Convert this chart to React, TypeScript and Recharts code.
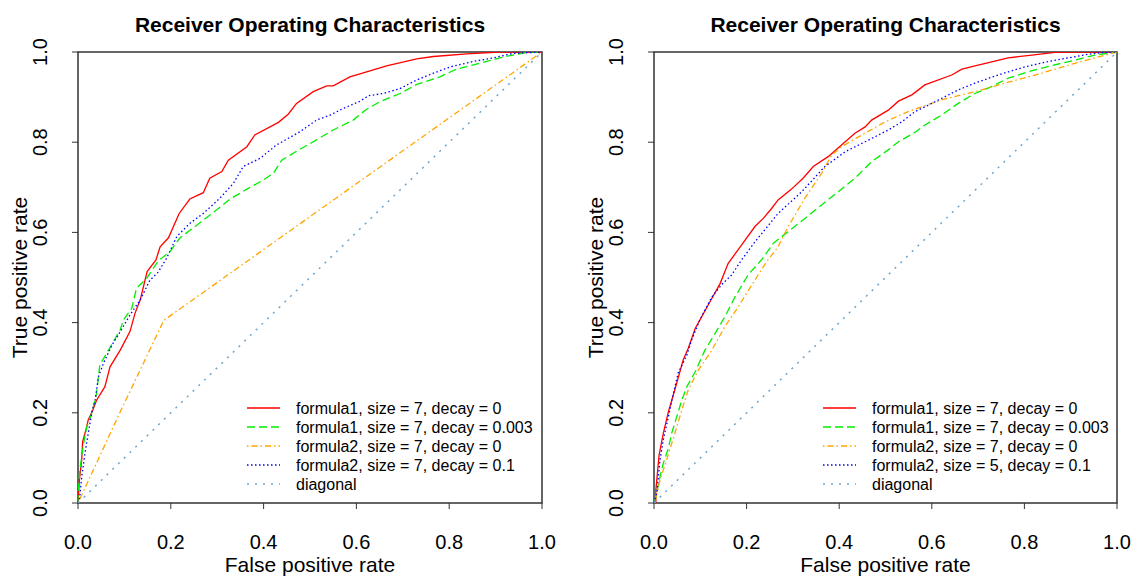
import React from "react";
import { LineChart, Line, XAxis, YAxis, ReferenceArea, Legend, Label } from "recharts";

// ROC points, [fpr, tpr]
const leftF1D0 = [
  [0, 0], [0.003, 0.051], [0.008, 0.095], [0.01, 0.136], [0.017, 0.162], [0.022, 0.184],
  [0.032, 0.206], [0.04, 0.228], [0.058, 0.258], [0.069, 0.302], [0.091, 0.339], [0.112, 0.38],
  [0.123, 0.421], [0.134, 0.45], [0.149, 0.513], [0.168, 0.539], [0.177, 0.568], [0.195, 0.588],
  [0.218, 0.642], [0.241, 0.674], [0.27, 0.688], [0.284, 0.72], [0.31, 0.735], [0.324, 0.76],
  [0.364, 0.79], [0.381, 0.816], [0.432, 0.844], [0.453, 0.862], [0.471, 0.886], [0.507, 0.912],
  [0.536, 0.925], [0.55, 0.925], [0.586, 0.945], [0.622, 0.956], [0.665, 0.969], [0.73, 0.985],
  [0.766, 0.99], [0.838, 0.996], [0.909, 1], [1, 1],
];
const leftF1D003 = [
  [0, 0], [0, 0.022], [0.004, 0.073], [0.011, 0.125], [0.019, 0.169], [0.03, 0.2], [0.04, 0.243],
  [0.047, 0.306], [0.068, 0.343], [0.091, 0.384], [0.098, 0.406], [0.116, 0.432], [0.126, 0.476],
  [0.148, 0.498], [0.173, 0.537], [0.198, 0.557], [0.22, 0.588], [0.256, 0.616], [0.299, 0.65],
  [0.328, 0.674], [0.364, 0.696], [0.399, 0.716], [0.421, 0.731], [0.439, 0.76], [0.471, 0.78],
  [0.507, 0.801], [0.55, 0.827], [0.593, 0.849], [0.619, 0.871], [0.651, 0.89], [0.694, 0.908],
  [0.73, 0.928], [0.78, 0.945], [0.816, 0.962], [0.866, 0.975], [0.909, 0.987], [0.945, 0.995],
  [0.974, 1], [1, 1],
];
const leftF2D0 = [[0, 0], [0.09, 0.2], [0.185, 0.405], [1, 1]];
const leftF2D01 = [
  [0, 0], [0.003, 0.007], [0.008, 0.058], [0.015, 0.11], [0.022, 0.154], [0.03, 0.202],
  [0.037, 0.228], [0.044, 0.28], [0.055, 0.31], [0.073, 0.35], [0.091, 0.38], [0.112, 0.417],
  [0.134, 0.45], [0.155, 0.494], [0.173, 0.512], [0.191, 0.543], [0.213, 0.591], [0.241, 0.62],
  [0.27, 0.642], [0.306, 0.676], [0.335, 0.709], [0.356, 0.746], [0.392, 0.764], [0.428, 0.794],
  [0.478, 0.823], [0.514, 0.849], [0.543, 0.86], [0.572, 0.875], [0.608, 0.891], [0.626, 0.903],
  [0.658, 0.908], [0.694, 0.919], [0.73, 0.938], [0.766, 0.953], [0.802, 0.967], [0.852, 0.979],
  [0.895, 0.987], [0.938, 0.997], [1, 1],
];

const rightF1D0 = [
  [0, 0], [0.004, 0], [0.004, 0.029], [0.011, 0.106], [0.02, 0.154], [0.031, 0.202], [0.045, 0.251],
  [0.063, 0.317], [0.074, 0.343], [0.089, 0.387], [0.117, 0.439], [0.143, 0.487], [0.16, 0.531],
  [0.189, 0.572], [0.218, 0.613], [0.236, 0.631], [0.254, 0.653], [0.268, 0.672], [0.297, 0.696],
  [0.322, 0.72], [0.344, 0.746], [0.376, 0.768], [0.405, 0.794], [0.434, 0.82], [0.456, 0.834],
  [0.47, 0.849], [0.506, 0.871], [0.528, 0.891], [0.557, 0.905], [0.585, 0.927], [0.643, 0.949],
  [0.665, 0.962], [0.7, 0.971], [0.765, 0.987], [0.816, 0.993], [0.866, 0.999], [0.909, 1], [1, 1],
];
const rightF1D003 = [
  [0, 0], [0.002, 0.003], [0.013, 0.058], [0.02, 0.088], [0.031, 0.121], [0.038, 0.154],
  [0.049, 0.191], [0.06, 0.228], [0.071, 0.258], [0.089, 0.291], [0.11, 0.339], [0.132, 0.376],
  [0.153, 0.413], [0.175, 0.457], [0.204, 0.507], [0.233, 0.54], [0.258, 0.576], [0.29, 0.602],
  [0.326, 0.631], [0.362, 0.661], [0.398, 0.69], [0.434, 0.72], [0.47, 0.757], [0.506, 0.783],
  [0.528, 0.801], [0.564, 0.822], [0.585, 0.838], [0.621, 0.86], [0.657, 0.886], [0.693, 0.908],
  [0.729, 0.923], [0.765, 0.942], [0.808, 0.956], [0.859, 0.97], [0.909, 0.982], [0.952, 0.993],
  [1, 1],
];
const rightF2D0 = [
  [0, 0], [0.002, 0.003], [0.013, 0.051], [0.027, 0.095], [0.045, 0.154], [0.06, 0.206],
  [0.074, 0.251], [0.096, 0.295], [0.125, 0.339], [0.153, 0.391], [0.182, 0.435], [0.211, 0.483],
  [0.243, 0.535], [0.268, 0.568], [0.29, 0.613], [0.326, 0.676], [0.362, 0.731], [0.384, 0.772],
  [0.405, 0.79], [0.449, 0.816], [0.499, 0.845], [0.549, 0.868], [0.621, 0.894], [0.693, 0.912],
  [0.765, 0.933], [0.837, 0.953], [0.909, 0.975], [1, 1],
];
const rightF2D01 = [
  [0, 0], [0.006, 0.022], [0.013, 0.095], [0.02, 0.14], [0.031, 0.191], [0.042, 0.243],
  [0.052, 0.288], [0.071, 0.328], [0.081, 0.361], [0.099, 0.406], [0.125, 0.457], [0.147, 0.485],
  [0.168, 0.506], [0.189, 0.539], [0.218, 0.579], [0.268, 0.642], [0.319, 0.69], [0.369, 0.746],
  [0.413, 0.779], [0.456, 0.801], [0.506, 0.827], [0.535, 0.845], [0.564, 0.868], [0.592, 0.882],
  [0.621, 0.897], [0.657, 0.916], [0.693, 0.931], [0.729, 0.944], [0.765, 0.956], [0.801, 0.967],
  [0.852, 0.979], [0.895, 0.987], [0.938, 0.995], [0.981, 1], [1, 1],
];
const diagonal = [[0, 0], [1, 1]];

const leftNames = [
  "formula1, size = 7, decay = 0",
  "formula1, size = 7, decay = 0.003",
  "formula2, size = 7, decay = 0",
  "formula2, size = 7, decay = 0.1",
  "diagonal",
];
const rightNames = [
  "formula1, size = 7, decay = 0",
  "formula1, size = 7, decay = 0.003",
  "formula2, size = 7, decay = 0",
  "formula2, size = 5, decay = 0.1",
  "diagonal",
];

const TICKS = [0, 0.2, 0.4, 0.6, 0.8, 1];
const TITLE = "Receiver Operating Characteristics";
const FONT = "'Liberation Sans', Arial, Helvetica, sans-serif";

// line styles, in series order
const STYLES = [
  { color: "#ff0000", dash: undefined, width: 1.3 },
  { color: "#00ee00", dash: "8 4", width: 1.3 },
  { color: "#ffa500", dash: "1.5 3 6 3", width: 1.3 },
  { color: "#0000ff", dash: "1.5 2.5", width: 1.3 },
  { color: "#6ca6cd", dash: "2 6", width: 1.5 },
];

const toPts = (a: number[][]) => a.map(([x, y]) => ({ x, y }));

const XTick = (props: any) => (
  <text x={props.x} y={props.y + 38} textAnchor="middle" fontSize={20} fontFamily={FONT} fill="#000">
    {props.payload.value.toFixed(1)}
  </text>
);

const YTick = (props: any) => {
  const x = props.x - 23;
  return (
    <text x={x} y={props.y} transform={`rotate(-90, ${x}, ${props.y})`} textAnchor="middle"
      fontSize={20} fontFamily={FONT} fill="#000">
      {props.payload.value.toFixed(1)}
    </text>
  );
};

const XTitle = (props: any) => {
  const vb = props.viewBox;
  return (
    <text x={vb.x + vb.width / 2} y={vb.y + 69} textAnchor="middle" fontSize={21} fontFamily={FONT} fill="#000">
      False positive rate
    </text>
  );
};

const YTitle = (props: any) => {
  const vb = props.viewBox;
  const x = vb.x + 19;
  const y = vb.y + vb.height / 2;
  return (
    <text x={x} y={y} transform={`rotate(-90, ${x}, ${y})`} textAnchor="middle" fontSize={21}
      fontFamily={FONT} fill="#000">
      True positive rate
    </text>
  );
};

function LegendBox({ names }: { names: string[] }) {
  return (
    <svg width={330} height={100} style={{ display: "block" }}>
      {names.map((n, i) => {
        const st = STYLES[i];
        const cy = 10 + i * 19;
        return (
          <g key={n}>
            <line x1={7} x2={40} y1={cy} y2={cy} stroke={st.color} strokeWidth={st.width}
              strokeDasharray={st.dash} />
            <text x={56} y={cy + 5.5} fontSize={16} fontFamily={FONT} fill="#000">{n}</text>
          </g>
        );
      })}
    </svg>
  );
}

function RocPanel(props: {
  left: number; width: number; marginLeft: number; marginRight: number;
  series: number[][][]; names: string[]; legendLeft: number;
}) {
  const plotLeft = props.marginLeft + 70;
  const plotWidth = props.width - plotLeft - props.marginRight;
  return (
    <div style={{ position: "absolute", left: props.left, top: 0, width: props.width, height: 576 }}>
      <div style={{
        position: "absolute", left: plotLeft, width: plotWidth, top: 14, textAlign: "center",
        fontSize: 21, fontWeight: "bold", lineHeight: "22px", fontFamily: FONT, color: "#000",
      }}>
        {TITLE}
      </div>
      <LineChart width={props.width} height={576}
        margin={{ top: 52, right: props.marginRight, bottom: 0, left: props.marginLeft }}>
        <XAxis type="number" dataKey="x" domain={[0, 1]} ticks={TICKS} interval={0} height={73}
          tickSize={6} axisLine={false} stroke="#333" tick={<XTick />} allowDataOverflow>
          <Label content={<XTitle />} />
        </XAxis>
        <YAxis type="number" dataKey="y" domain={[0, 1]} ticks={TICKS} interval={0} width={70}
          tickSize={6} axisLine={false} stroke="#333" tick={<YTick />} allowDataOverflow>
          <Label content={<YTitle />} />
        </YAxis>
        <ReferenceArea x1={0} x2={1} y1={0} y2={1} fill="none" stroke="#333" strokeWidth={1.5}
          ifOverflow="visible" />
        {props.series.map((s, i) => (
          <Line key={props.names[i]} name={props.names[i]} data={toPts(s)} dataKey="y" type="linear"
            stroke={STYLES[i].color} strokeWidth={STYLES[i].width} strokeDasharray={STYLES[i].dash}
            dot={false} activeDot={false} isAnimationActive={false} />
        ))}
        <Legend layout="vertical" align="center" verticalAlign="middle"
          wrapperStyle={{ left: props.legendLeft, top: 398, width: 330, height: 100 }}
          content={() => <LegendBox names={props.names} />} />
      </LineChart>
    </div>
  );
}

export default function App() {
  return (
    <div style={{ position: "absolute", left: 0, top: 0, width: 1133, height: 576, background: "#fff",
      fontFamily: FONT }}>
      <RocPanel left={0} width={566} marginLeft={8} marginRight={24} legendLeft={240}
        series={[leftF1D0, leftF1D003, leftF2D0, leftF2D01, diagonal]} names={leftNames} />
      <RocPanel left={566} width={567} marginLeft={18} marginRight={16} legendLeft={250}
        series={[rightF1D0, rightF1D003, rightF2D0, rightF2D01, diagonal]} names={rightNames} />
    </div>
  );
}
